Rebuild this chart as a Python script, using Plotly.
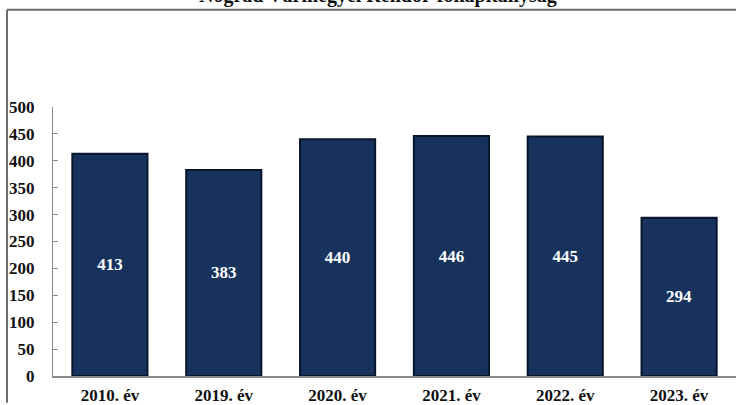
import plotly.graph_objects as go

categories = ["2010. év", "2019. év", "2020. év", "2021. év", "2022. év", "2023. év"]
values = [413, 383, 440, 446, 445, 294]
y_ticks = [0, 50, 100, 150, 200, 250, 300, 350, 400, 450, 500]
title_text = "Nógrád Vármegyei Rendőr-főkapitányság"

SERIF = "Liberation Serif"

W, H = 736, 405
PL, PR, PT, PB = 53, 736, 107, 378
PW, PH = PR - PL, PB - PT


def px_x(p):
    return (p - PL) / PW


def px_y(p):
    return (PB - p) / PH


fig = go.Figure()
fig.add_trace(go.Bar(
    x=categories,
    y=values,
    text=[str(v) for v in values],
    textposition="inside",
    insidetextanchor="middle",
    textangle=0,
    textfont=dict(family=SERIF, size=17, color="white", weight="bold"),
    marker=dict(color="#17325d", line=dict(color="#08152b", width=2)),
    width=0.66,
    hoverinfo="skip",
))

fig.update_layout(
    width=W, height=H,
    margin=dict(l=PL, r=W - PR, t=PT, b=H - PB),
    paper_bgcolor="white", plot_bgcolor="white",
    showlegend=False,
    xaxis=dict(
        range=[-0.5, 5.5],
        showline=True, linecolor="#8a8a8a", linewidth=1.5,
        ticks="", showgrid=False,
        tickfont=dict(family=SERIF, size=17, color="#111", weight="bold"),
        ticklabelstandoff=3,
    ),
    yaxis=dict(
        range=[0, 500],
        tickvals=y_ticks,
        showline=True, linecolor="#8a8a8a", linewidth=1,
        ticks="inside", ticklen=5, tickcolor="#8a8a8a",
        showgrid=False, zeroline=False,
        tickfont=dict(family=SERIF, size=17, color="#111", weight="bold"),
        ticklabelstandoff=14,
    ),
    annotations=[dict(
        text="<b>" + title_text + "</b>",
        xref="paper", yref="paper",
        x=px_x(378), y=px_y(8.5),
        xanchor="center", yanchor="bottom",
        showarrow=False,
        font=dict(family=SERIF, size=20, color="#111"),
    )],
    shapes=[
        dict(type="line", xref="paper", yref="paper",
             x0=px_x(7), x1=px_x(736),
             y0=px_y(9), y1=px_y(9),
             line=dict(color="#6e6e6e", width=2)),
        dict(type="line", xref="paper", yref="paper",
             x0=px_x(7), x1=px_x(7),
             y0=px_y(9), y1=px_y(405),
             line=dict(color="#6e6e6e", width=2)),
    ],
)

fig.write_html(
    "out.html",
    config={"displayModeBar": False},
    post_script="document.body.style.margin='0';document.body.style.overflow='hidden';",
)
